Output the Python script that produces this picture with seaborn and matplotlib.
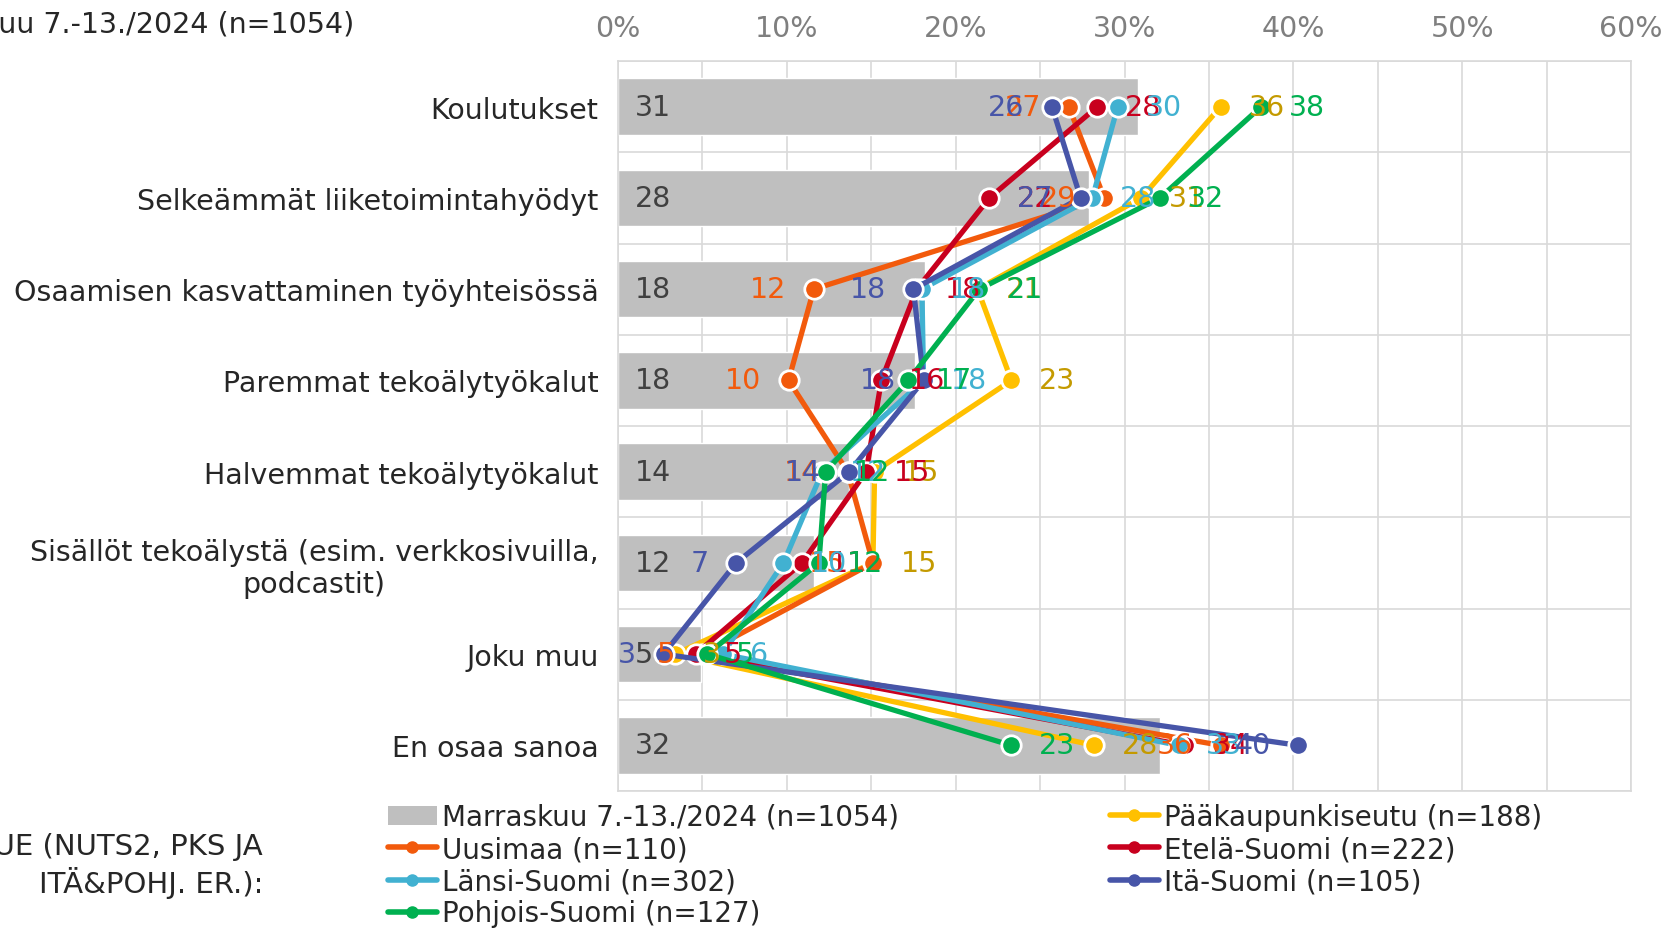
import numpy as np
import pandas as pd
import matplotlib
matplotlib.use("Agg")
import matplotlib.pyplot as plt
from matplotlib.lines import Line2D
from matplotlib.patches import Patch
import seaborn as sns

# ---- data -------------------------------------------------------------
categories = [
    "Koulutukset",
    "Selkeämmät liiketoimintahyödyt",
    "Osaamisen kasvattaminen työyhteisössä",
    "Paremmat tekoälytyökalut",
    "Halvemmat tekoälytyökalut",
    "Sisällöt tekoälystä (esim. verkkosivuilla,\npodcastit)",
    "Joku muu",
    "En osaa sanoa",
]
total = [30.8, 27.9, 18.2, 17.6, 13.7, 11.6, 4.9, 32.1]

pks = [35.7, 31.0, 21.3, 23.3, 15.2, 15.1, 3.4, 28.2]
uusimaa = [26.7, 28.8, 11.6, 10.1, 13.6, 15.1, 5.0, 35.7]
etela = [28.4, 22.0, 17.7, 15.6, 14.7, 10.9, 4.6, 33.6]
lansi = [29.6, 28.1, 18.0, 18.1, 12.1, 9.8, 6.2, 33.2]
ita = [25.7, 27.4, 17.5, 18.1, 13.7, 7.0, 2.7, 40.3]
pohjois = [38.1, 32.1, 21.4, 17.2, 12.3, 11.9, 5.3, 23.3]

total_label = "Marraskuu 7.-13./2024 (n=1054)"
region_labels = [
    "Pääkaupunkiseutu (n=188)",
    "Uusimaa (n=110)",
    "Etelä-Suomi (n=222)",
    "Länsi-Suomi (n=302)",
    "Itä-Suomi (n=105)",
    "Pohjois-Suomi (n=127)",
]
region_values = [pks, uusimaa, etela, lansi, ita, pohjois]
xticks = [0, 10, 20, 30, 40, 50, 60]

# ---- styling ----------------------------------------------------------
line_colors = ["#FFC000", "#F25A0C", "#C8001E", "#41B1D1", "#4755A8", "#00B050"]
text_colors = ["#C49A00", "#F25A0C", "#C8001E", "#41B1D1", "#4755A8", "#00B050"]
label_side = [1, -1, 1, 1, -1, 1]   # +1: label right of point, -1: left
bar_color = "#BFBFBF"
grid_color = "#D9D9D9"
dark = "#262626"
FS = 20.5
LFS = 20

sns.set_style("white")
plt.rcParams["font.family"] = ["DejaVu Sans"]

W, H = 1665, 929
fig = plt.figure(figsize=(W / 100, H / 100), dpi=100)
L, R, T, B = 618, 1631, 62, 792
ax = fig.add_axes([L / W, 1 - B / H, (R - L) / W, (B - T) / H])

pos = np.arange(len(categories))

bar_df = pd.DataFrame({"total": total, "pos": pos})
sns.barplot(data=bar_df, x="total", y="pos", orient="h", native_scale=True,
            color=bar_color, saturation=1, width=0.62, ax=ax, zorder=1)

long_df = pd.concat(
    [pd.DataFrame({"value": vals, "pos": pos, "region": name})
     for name, vals in zip(region_labels, region_values)],
    ignore_index=True,
)
sns.lineplot(data=long_df, x="value", y="pos", hue="region",
             hue_order=region_labels, palette=line_colors, orient="y",
             sort=True, estimator=None, marker="o", markersize=14,
             markeredgecolor="white", markeredgewidth=2, linewidth=3.8,
             legend=False, ax=ax, zorder=3)

# value labels
for i, v in enumerate(total):
    ax.text(1.0, pos[i], f"{v:.0f}", ha="left", va="center",
            color="#404040", fontsize=FS, zorder=4)
for vals, col, side in zip(region_values, text_colors, label_side):
    for p, v in zip(pos, vals):
        ax.annotate(f"{v:.0f}", xy=(v, p), xytext=(20 * side, 0),
                    textcoords="offset points",
                    ha="left" if side > 0 else "right", va="center",
                    color=col, fontsize=FS, zorder=5)

# axes
ax.set_xlim(0, 60)
ax.set_ylim(len(categories) - 0.5, -0.5)
ax.xaxis.tick_top()
ax.set_xticks(xticks)
ax.set_xticklabels([f"{t}%" for t in xticks])
ax.set_xticks(np.arange(5, 60, 10), minor=True)
ax.set_yticks(pos)
ax.set_yticklabels(categories)
ax.set_yticks(np.arange(-0.5, len(categories), 1.0), minor=True)
ax.tick_params(axis="x", which="both", length=0, pad=14, labelsize=FS,
               labelcolor="#7F7F7F")
ax.tick_params(axis="y", which="both", length=0, pad=14, labelsize=FS,
               labelcolor=dark)
for lab in ax.get_yticklabels():
    lab.set_multialignment("center")
ax.grid(True, which="both", axis="x", color=grid_color, linewidth=1.2, zorder=0)
ax.grid(True, which="minor", axis="y", color=grid_color, linewidth=1.2, zorder=0)
ax.grid(False, which="major", axis="y")
ax.set_axisbelow(True)
ax.set_xlabel("")
ax.set_ylabel("")
for s in ax.spines.values():
    s.set_color(grid_color)
    s.set_linewidth(1.2)

# header text on the left
fig.text(354 / W, 1 - 24 / H, total_label, ha="right", va="center",
         fontsize=FS, color=dark)
fig.text(263 / W, 1 - 866 / H, "ALUE (NUTS2, PKS JA\nITÄ&POHJ. ER.):",
         ha="right", va="center", fontsize=21, color=dark,
         multialignment="right", linespacing=1.2)

# legend in two columns
def line_handle(c):
    return Line2D([0], [0], color=c, linewidth=4, marker="o", markersize=8,
                  markeredgecolor=c, solid_capstyle="round")

left_handles = [Patch(facecolor=bar_color, edgecolor="none"),
                line_handle(line_colors[1]), line_handle(line_colors[3]),
                line_handle(line_colors[5])]
left_labels = [total_label, region_labels[1], region_labels[3], region_labels[5]]
right_handles = [line_handle(line_colors[0]), line_handle(line_colors[2]),
                 line_handle(line_colors[4])]
right_labels = [region_labels[0], region_labels[2], region_labels[4]]

leg_kw = dict(loc="upper left", frameon=False, fontsize=LFS,
              handlelength=1.75, handletextpad=0.2, labelspacing=0.15,
              borderpad=0, borderaxespad=0, labelcolor=dark)
leg1 = fig.legend(left_handles, left_labels,
                  bbox_to_anchor=(388 / W, 1 - 804 / H), **leg_kw)
leg2 = fig.legend(right_handles, right_labels,
                  bbox_to_anchor=(1110 / W, 1 - 804 / H), **leg_kw)

fig.savefig("out.png", dpi=100)
